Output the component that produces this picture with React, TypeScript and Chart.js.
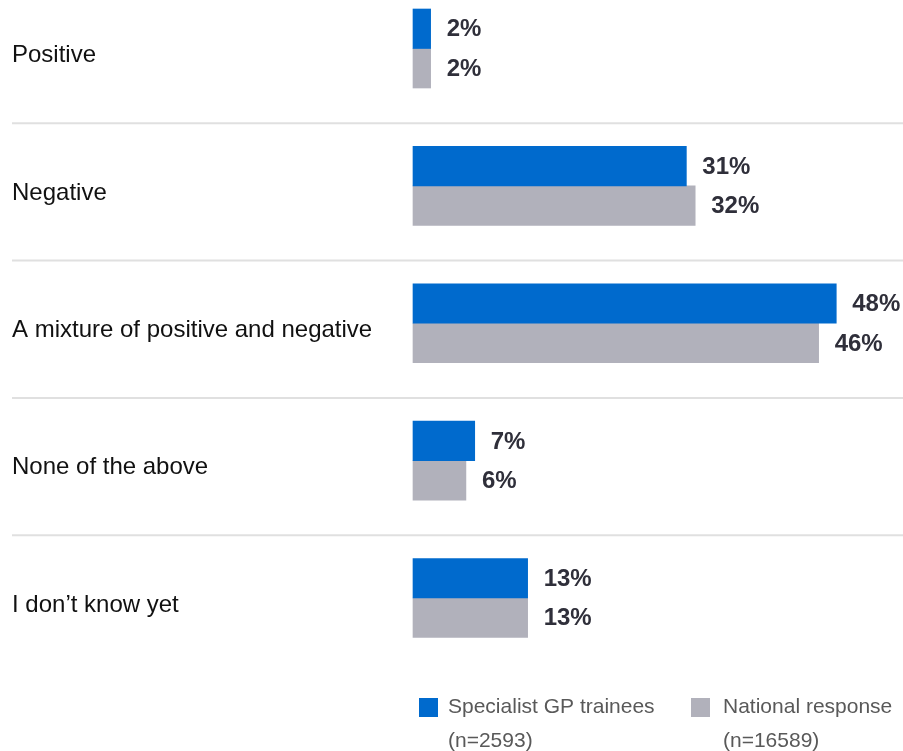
import React, { useEffect, useRef } from 'react';
import { Chart, registerables } from 'chart.js';

Chart.register(...registerables);

const categories = [
  'Positive',
  'Negative',
  'A mixture of positive and negative',
  'None of the above',
  'I don\u2019t know yet',
];
const gpTrainees = [2, 31, 48, 7, 13];
const nationalResponse = [2, 32, 46, 6, 13];
const seriesNames = ['Specialist GP trainees', 'National response'];
const seriesCounts = ['(n=2593)', '(n=16589)'];
const seriesColors = ['#006ACD', '#B1B1BB'];

const FONT = '"Liberation Sans", Arial, Helvetica, sans-serif';

const separatorPlugin = {
  id: 'separators',
  beforeDatasetsDraw(chart: any) {
    const y = chart.scales.y;
    const ctx = chart.ctx;
    ctx.save();
    ctx.strokeStyle = '#E0E0E0';
    ctx.lineWidth = 2;
    for (let i = 0; i < categories.length - 1; i++) {
      const py = (y.getPixelForValue(i) + y.getPixelForValue(i + 1)) / 2 + 6;
      ctx.beginPath();
      ctx.moveTo(4, py);
      ctx.lineTo(chart.width, py);
      ctx.stroke();
    }
    ctx.restore();
  },
};

const valueLabelPlugin = {
  id: 'valueLabels',
  afterDatasetsDraw(chart: any) {
    const ctx = chart.ctx;
    ctx.save();
    ctx.font = `bold 24px ${FONT}`;
    ctx.fillStyle = '#2F2F3A';
    ctx.textAlign = 'left';
    ctx.textBaseline = 'middle';
    chart.data.datasets.forEach((ds: any, di: number) => {
      const meta = chart.getDatasetMeta(di);
      meta.data.forEach((el: any, i: number) => {
        ctx.fillText(`${ds.data[i]}%`, el.x + 16, el.y + 1);
      });
    });
    ctx.restore();
  },
};

const legendPlugin = {
  id: 'customLegend',
  afterDraw(chart: any) {
    const ctx = chart.ctx;
    const area = chart.chartArea;
    const top = area.bottom + 100;
    const offsets = [6, 278];
    const textGaps = [29, 32];
    ctx.save();
    ctx.font = `21px ${FONT}`;
    ctx.textAlign = 'left';
    ctx.textBaseline = 'middle';
    chart.data.datasets.forEach((ds: any, di: number) => {
      const x = area.left + offsets[di];
      ctx.fillStyle = ds.backgroundColor;
      ctx.fillRect(x, top, 19, 19);
      ctx.fillStyle = '#595959';
      ctx.fillText(seriesNames[di], x + textGaps[di], top + 9);
      ctx.fillText(seriesCounts[di], x + textGaps[di], top + 43);
    });
    ctx.restore();
  },
};

export default function App() {
  const canvasRef = useRef<HTMLCanvasElement | null>(null);

  useEffect(() => {
    document.documentElement.style.overflow = 'hidden';
    document.body.style.overflow = 'hidden';
    const canvas = canvasRef.current;
    if (!canvas) return;
    const chart = new Chart(canvas, {
      type: 'bar',
      data: {
        labels: categories,
        datasets: [
          {
            label: seriesNames[0],
            data: gpTrainees,
            backgroundColor: seriesColors[0],
            borderWidth: 0,
            barThickness: 39.5,
            clip: false,
          },
          {
            label: seriesNames[1],
            data: nationalResponse,
            backgroundColor: seriesColors[1],
            borderWidth: 0,
            barThickness: 39.5,
            clip: false,
          },
        ],
      },
      options: {
        indexAxis: 'y',
        responsive: false,
        animation: false,
        devicePixelRatio: 1,
        layout: { padding: { left: 4, top: 40.5, right: 5, bottom: 153 } },
        scales: {
          x: { type: 'linear', min: 0, max: 55, display: false },
          y: {
            type: 'category',
            offset: false,
            grid: { display: false },
            border: { display: false },
            ticks: {
              crossAlign: 'far',
              labelOffset: 7,
              color: '#111111',
              font: { size: 24, family: FONT },
            },
            afterFit: (scale: any) => {
              scale.width = 401;
            },
          },
        },
        plugins: {
          legend: { display: false },
          tooltip: { enabled: false },
        },
      },
      plugins: [separatorPlugin, valueLabelPlugin, legendPlugin],
    } as any);
    return () => chart.destroy();
  }, []);

  return (
    <div style={{ position: 'fixed', left: 8, top: 8, width: 895, height: 743 }}>
      <canvas ref={canvasRef} width={895} height={743} style={{ display: 'block' }} />
    </div>
  );
}
